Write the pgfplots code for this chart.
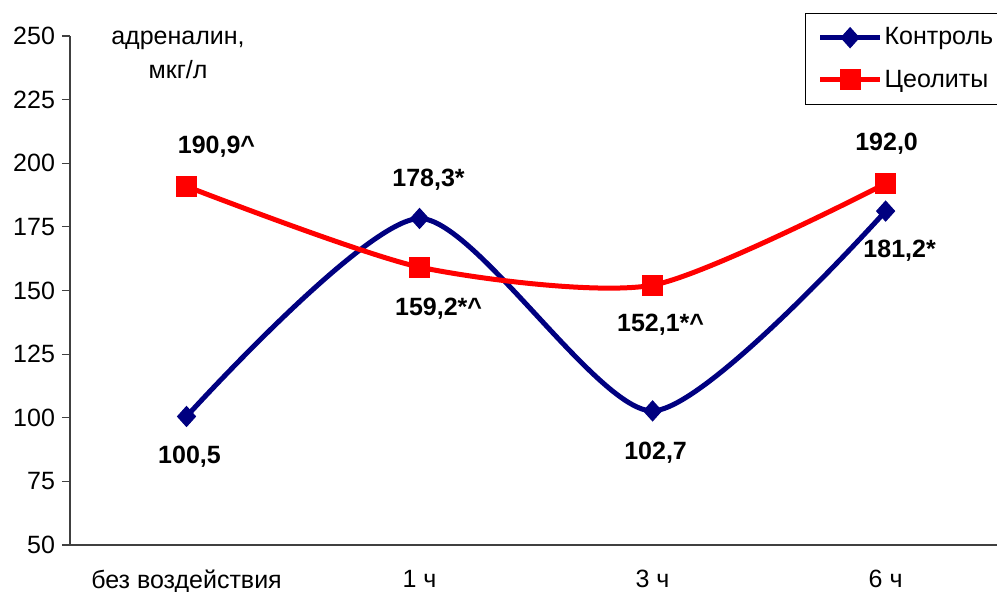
\documentclass[border=0pt]{standalone}
\usepackage{fontspec}
\setmainfont{Liberation Sans}
\usepackage{pgfplots}
\pgfplotsset{compat=1.18}

\definecolor{ctrlblue}{RGB}{0,0,128}
\definecolor{zeored}{RGB}{255,0,0}

\begin{document}
\begin{tikzpicture}
\path[use as bounding box] (-35pt,-23pt) rectangle (463.5pt,272.5pt);
\begin{axis}[
  at={(0,0)}, anchor=south west,
  scale only axis, width=463.5pt, height=254.5pt,
  xmin=-0.5, xmax=3.478, ymin=50, ymax=250,
  axis x line=bottom, axis y line=left,
  axis line style={-, line width=0.6pt, black!75},
  ytick={50,75,...,250},
  xtick={0,1,2,3},
  xticklabels={без воздействия, 1 ч, 3 ч, 6 ч},
  major x tick style={draw=none},
  extra x ticks={-0.5,0.5,1.5,2.5},
  extra x tick labels={},
  extra x tick style={major tick length=4pt, tick style={draw=black!75, line width=0.6pt}},
  tick align=outside,
  major tick length=4pt,
  tick style={black!75, line width=0.6pt},
  /pgf/number format/assume math mode=true,
  tick label style={font=\fontsize{12.5}{15}\selectfont},
  xticklabel style={yshift=-5pt},
  clip=false,
  legend style={
    at={(rel axis cs:0.793,1.045)}, anchor=north west,
    draw=black, line width=0.5pt, fill=white,
    font=\fontsize{12.5}{15}\selectfont,
    inner xsep=6pt, inner ysep=6pt,
    row sep=9pt,
    nodes={inner sep=1pt},
  },
  legend cell align=left,
  legend image code/.code={
    \draw[mark repeat=2, mark phase=2, #1] plot coordinates {(0pt,0pt) (15pt,0pt) (30pt,0pt)};
  },
]
\addplot[ctrlblue, line width=2.5pt, smooth, tension=0.42, mark=diamond*, mark size=5pt,
  mark options={solid, fill=ctrlblue, line width=0.5pt, xscale=1.2}]
  coordinates {(0,100.5) (1,178.3) (2,102.7) (3,181.2)};
\addlegendentry{Контроль}
\addplot[zeored, line width=2.5pt, smooth, tension=0.42, mark=square*, mark size=5pt,
  mark options={solid, fill=zeored, line width=0.5pt}]
  coordinates {(0,190.9) (1,159.2) (2,152.1) (3,192.0)};
\addlegendentry{Цеолиты}

% value labels
\begin{scope}[every node/.style={font=\bfseries\fontsize{12.5}{15}\selectfont}]
\node[xshift=15pt, yshift=20pt] at (axis cs:0,190.9) {190,9\textasciicircum};
\node[xshift=4.5pt, yshift=19.5pt] at (axis cs:1,178.3) {178,3*};
\node[xshift=9.5pt, yshift=-21pt] at (axis cs:1,159.2) {159,2*\textasciicircum};
\node[xshift=1.5pt, yshift=-20pt] at (axis cs:0,100.5) {100,5};
\node[xshift=1.5pt, yshift=-21pt] at (axis cs:2,102.7) {102,7};
\node[xshift=4pt, yshift=-20pt] at (axis cs:2,152.1) {152,1*\textasciicircum};
\node[xshift=0.5pt, yshift=20pt] at (axis cs:3,192.0) {192,0};
\node[xshift=7pt, yshift=-20pt] at (axis cs:3,181.2) {181,2*};
\end{scope}

\node[align=center, font=\fontsize{12.5}{17}\selectfont]
  at (rel axis cs:0.1165,0.963) {адреналин,\\мкг/л};
\end{axis}
\end{tikzpicture}
\end{document}
